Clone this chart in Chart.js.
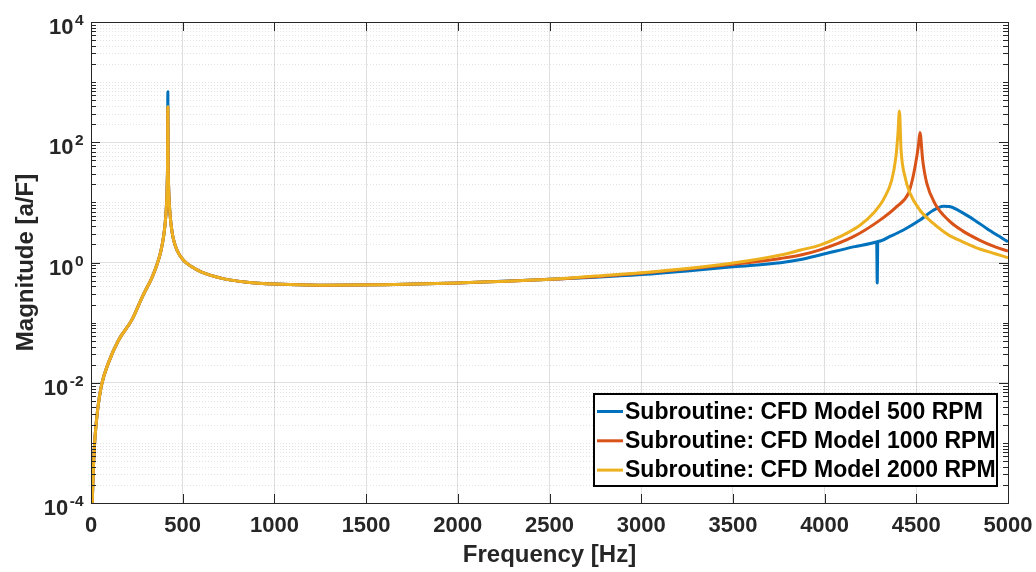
<!DOCTYPE html>
<html>
<head>
<meta charset="utf-8">
<script src="https://cdn.jsdelivr.net/npm/chart.js@4.4.1/dist/chart.umd.min.js"></script>
<style>
  html, body { margin: 0; padding: 0; background: #fff; }
</style>
</head>
<body>
<canvas id="grafico" width="1036" height="572"></canvas>
<script>
// --- dados ---
const seriesLabels = ['Subroutine: CFD Model 500 RPM', 'Subroutine: CFD Model 1000 RPM', 'Subroutine: CFD Model 2000 RPM'];
const seriesColors = ['#0072BD', '#D95319', '#EDB120'];

// trecho comum (subida ate o primeiro pico)
const freqRise = [4, 7, 12.5, 22, 36, 58, 94, 150, 222, 285, 330, 358, 380, 395, 405, 410, 414, 416, 417.5];
const magRise = [6.3e-5, 1.05e-4, 3.5e-4, 1.26e-3, 3.5e-3, 9.3e-3, 0.021, 0.051, 0.11, 0.29, 0.54, 0.89, 1.5, 2.6, 4.7, 7.4, 13.5, 23, 46];

// primeiro pico (cada serie)
const peakFreq = 419;
const peakMags = [690, 380, 390];

// trecho comum (descida ate 2500 Hz)
const freqFall = [420.5, 422, 425, 431, 440, 450, 470, 503, 550, 600, 720, 850, 1000, 1250, 1600, 2000, 2500];
const magFall = [50, 25, 12.6, 6.3, 3.55, 2.4, 1.58, 1.1, 0.85, 0.70, 0.54, 0.47, 0.437, 0.42, 0.427, 0.457, 0.525];

// trecho final de cada serie
const freqHigh500 = [2750, 3000, 3250, 3500, 3760, 3870, 3975, 4157, 4281, 4284, 4287, 4290, 4293, 4360, 4430, 4520, 4593, 4648, 4680, 4756, 4820, 4884, 4950, 5000];
const magHigh500 = [0.569, 0.631, 0.724, 0.851, 0.989, 1.12, 1.33, 1.82, 2.19, 2.21, 0.457, 2.23, 2.25, 2.75, 3.47, 5.07, 7.41, 8.61, 8.51, 6.61, 5.01, 3.69, 2.75, 2.21];

const freqHigh1000 = [2750, 3000, 3250, 3500, 3760, 3870, 3975, 4157, 4302, 4393, 4457, 4475, 4493, 4511, 4520, 4535, 4557, 4602, 4675, 4750, 4847, 4930, 5000];
const magHigh1000 = [0.582, 0.661, 0.776, 0.933, 1.17, 1.33, 1.62, 2.69, 5.07, 8.5, 14.1, 21.4, 38.9, 85, 145, 50, 20.9, 9.5, 5.07, 3.39, 2.34, 1.82, 1.55];

const freqHigh2000 = [2750, 3000, 3250, 3500, 3760, 3870, 3975, 4084, 4193, 4266, 4320, 4366, 4389, 4400, 4408, 4417, 4438, 4466, 4520, 4593, 4675, 4756, 4850, 4930, 5000];
const magHigh2000 = [0.596, 0.676, 0.794, 0.977, 1.33, 1.61, 1.95, 2.69, 4.17, 6.6, 11.0, 23.4, 57.5, 141, 331, 74, 26.9, 14.1, 7.4, 4.47, 2.88, 2.19, 1.66, 1.40, 1.20];

const xTicks = [0, 500, 1000, 1500, 2000, 2500, 3000, 3500, 4000, 4500, 5000];
const yMajorExp = [-4, -2, 0, 2, 4];

const highFreqs = [freqHigh500, freqHigh1000, freqHigh2000];
const highMags = [magHigh500, magHigh1000, magHigh2000];

const fonte = 'Liberation Sans, Arial, sans-serif';
const corEixo = '#262626';

function montarSerie(i) {
    const pts = [];
    freqRise.forEach((f, k) => pts.push({ x: f, y: magRise[k] }));
    pts.push({ x: peakFreq, y: peakMags[i] });
    freqFall.forEach((f, k) => pts.push({ x: f, y: magFall[k] }));
    highFreqs[i].forEach((f, k) => pts.push({ x: f, y: highMags[i][k] }));
    return pts;
}

// eixos no estilo matlab: grade menor, caixa, marcas internas, rotulos 10^n e legenda
const eixosMatlab = {
    id: 'eixosMatlab',
    beforeDatasetsDraw(chart) {
        const { ctx, chartArea: a, scales: { y } } = chart;
        ctx.save();
        ctx.strokeStyle = 'rgba(38,38,38,0.13)';
        ctx.lineWidth = 1;
        ctx.setLineDash([1, 2]);
        for (let e = -4; e < 4; e++) {
            for (let m = 1; m <= 9; m++) {
                if (m === 1 && e % 2 === 0) continue;
                const py = Math.round(y.getPixelForValue(m * Math.pow(10, e))) + 0.5;
                ctx.beginPath(); ctx.moveTo(a.left, py); ctx.lineTo(a.right, py); ctx.stroke();
            }
        }
        ctx.restore();
    },
    afterDatasetsDraw(chart) {
        const { ctx, chartArea: a, scales: { x, y } } = chart;
        ctx.save();
        ctx.strokeStyle = corEixo;
        ctx.lineWidth = 1;
        // marcas no eixo y (maiores e menores)
        for (let e = -4; e < 4; e++) {
            for (let m = 1; m <= 9; m++) {
                const major = (m === 1 && e % 2 === 0);
                const len = major ? 9 : 5;
                const py = Math.round(y.getPixelForValue(m * Math.pow(10, e))) + 0.5;
                ctx.beginPath();
                ctx.moveTo(a.left, py); ctx.lineTo(a.left + len, py);
                ctx.moveTo(a.right, py); ctx.lineTo(a.right - len, py);
                ctx.stroke();
            }
        }
        // marcas no eixo x
        xTicks.forEach(v => {
            const px = Math.round(x.getPixelForValue(v)) + 0.5;
            ctx.beginPath();
            ctx.moveTo(px, a.bottom); ctx.lineTo(px, a.bottom - 9);
            ctx.moveTo(px, a.top); ctx.lineTo(px, a.top + 9);
            ctx.stroke();
        });
        // caixa
        ctx.strokeRect(Math.round(a.left) + 0.5, Math.round(a.top) + 0.5, Math.round(a.right - a.left), Math.round(a.bottom - a.top));

        // rotulos 10^n
        ctx.fillStyle = corEixo;
        ctx.textBaseline = 'alphabetic';
        ctx.textAlign = 'right';
        yMajorExp.forEach(e => {
            const py = y.getPixelForValue(Math.pow(10, e));
            const exp = String(e);
            ctx.font = 'bold 15.5px ' + fonte;
            const w = ctx.measureText(exp).width;
            const xr = a.left - 7.5;
            ctx.fillText(exp, xr, py + 3);
            ctx.font = 'bold 22px ' + fonte;
            ctx.fillText('10', xr - w - 1.5, py + 12);
        });
        ctx.restore();
    },
    afterDraw(chart) {
        const { ctx, chartArea: a } = chart;
        const left = a.right - 414, right = a.right - 11;
        const top = a.bottom - 109, bottom = a.bottom - 17;
        ctx.save();
        ctx.fillStyle = '#fff';
        ctx.fillRect(left, top, right - left, bottom - top);
        ctx.strokeStyle = '#000';
        ctx.lineWidth = 2;
        ctx.strokeRect(left, top, right - left, bottom - top);
        ctx.font = 'bold 23px ' + fonte;
        ctx.textBaseline = 'middle';
        ctx.textAlign = 'left';
        seriesLabels.forEach((lab, i) => {
            const ly = top + 17.5 + i * 29.3;
            ctx.strokeStyle = seriesColors[i];
            ctx.lineWidth = 3;
            ctx.beginPath(); ctx.moveTo(left + 3, ly); ctx.lineTo(left + 29, ly); ctx.stroke();
            ctx.fillStyle = '#000';
            ctx.fillText(lab, left + 31, ly + 1);
        });
        ctx.restore();
    }
};

const ctxGrafico = document.getElementById('grafico').getContext('2d');
new Chart(ctxGrafico, {
    type: 'line',
    data: {
        datasets: seriesLabels.map((lab, i) => ({
            label: lab,
            data: montarSerie(i),
            borderColor: seriesColors[i],
            backgroundColor: seriesColors[i],
            borderWidth: 3,
            borderJoinStyle: 'round',
            cubicInterpolationMode: 'monotone',
            pointRadius: 0,
            fill: false,
            order: 2 - i
        }))
    },
    options: {
        responsive: false,
        animation: false,
        devicePixelRatio: 1,
        layout: { padding: { top: 22, right: 28, left: 0, bottom: 0 } },
        plugins: { legend: { display: false }, tooltip: { enabled: false } },
        scales: {
            x: {
                type: 'linear',
                min: 0,
                max: 5000,
                afterBuildTicks: axis => { axis.ticks = xTicks.map(v => ({ value: v })); },
                afterFit: axis => { axis.height = 69; axis.paddingLeft = 0; axis.paddingRight = 0; },
                ticks: {
                    callback: v => String(v),
                    color: corEixo,
                    font: { family: fonte, size: 22, weight: 'bold' },
                    padding: 10,
                    maxRotation: 0
                },
                grid: { color: 'rgba(38,38,38,0.15)', drawTicks: false },
                border: { display: false },
                title: {
                    display: true,
                    text: 'Frequency [Hz]',
                    color: corEixo,
                    font: { family: fonte, size: 24, weight: 'bold' },
                    padding: { top: 0, bottom: 2 }
                }
            },
            y: {
                type: 'logarithmic',
                min: 1e-4,
                max: 1e4,
                afterBuildTicks: axis => { axis.ticks = yMajorExp.map(e => ({ value: Math.pow(10, e) })); },
                afterFit: axis => { axis.width = 91; axis.paddingTop = 0; axis.paddingBottom = 0; },
                ticks: { display: false },
                grid: { color: 'rgba(38,38,38,0.15)', drawTicks: false },
                border: { display: false },
                title: {
                    display: true,
                    text: 'Magnitude [a/F]',
                    color: corEixo,
                    font: { family: fonte, size: 24, weight: 'bold' },
                    padding: { top: 12, bottom: 0 }
                }
            }
        }
    },
    plugins: [eixosMatlab]
});
</script>
</body>
</html>
